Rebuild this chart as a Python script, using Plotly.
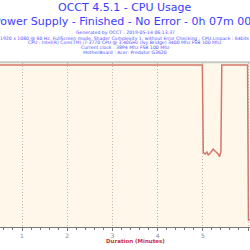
import plotly.graph_objects as go

# Data
minutes = [0.5, 4.99, 5.01, 5.05, 5.09, 5.12, 5.16, 5.20, 5.23, 5.27, 5.31, 5.34, 5.37, 5.40, 5.42, 5.99, 6.01, 6.1]
cpu_usage = [100, 100, 45.9, 45.1, 46.3, 44.4, 45.5, 47.1, 48.0, 46.9, 45.9, 45.1, 43.4, 46.5, 100, 100, 4.3, 4.3]
tick_vals = [1, 2, 3, 4, 5, 6]
tick_text = ["1", "2", "3", "4", "5", "6"]

title_lines = ["OCCT 4.5.1 - CPU Usage",
               "Power Supply - Finished - No Error - 0h 07m 00s"]
info_lines = [
    "Generated by OCCT : 2019-05-14 06:13:37",
    "1920 x 1080 @ 60 Hz, FullScreen mode, Shader Complexity 1, without Error Checking ; CPU:Linpack : 64bits",
    "CPU : Intel(R) Core(TM) i7-3770 CPU @ 3.40GHz (Ivy Bridge) 3400 Mhz FSB 100 Mhz",
    "Current clock : 3894 Mhz FSB 100 Mhz",
    "MotherBoard : Acer: Predator G3620",
]

fig = go.Figure()
fig.add_trace(go.Scatter(x=minutes, y=cpu_usage, mode="lines",
                         line=dict(color="#d4766c", width=1.5),
                         hoverinfo="skip", showlegend=False))

plot_top = 63
plot_bottom = 23
plot_h = 250 - plot_top - plot_bottom

fig.update_layout(
    width=250, height=250,
    margin=dict(l=0, r=0, t=plot_top, b=plot_bottom),
    paper_bgcolor="white",
    plot_bgcolor="#fff8ea",
    font=dict(family="DejaVu Sans"),
    xaxis=dict(range=[0.513, 6.044], tickvals=tick_vals, ticktext=tick_text,
               showgrid=True, gridcolor="#b8b8b8", griddash="1px,2px", gridwidth=1,
               showline=True, linecolor="#777777", linewidth=1,
               ticks="outside", ticklen=3, tickcolor="#777777",
               tickfont=dict(size=6, color="#888888"),
               minor=dict(dtick=0.2, ticks="outside", ticklen=2, tickcolor="#777777", showgrid=False),
               zeroline=False, fixedrange=True),
    yaxis=dict(range=[0, 101.2], showgrid=False, showticklabels=False,
               zeroline=False, showline=False, fixedrange=True),
)

# top border line of plot area
fig.add_shape(type="line", xref="paper", yref="paper", x0=0, x1=1, y0=1.004, y1=1.004,
              line=dict(color="#c8c8c8", width=2))

title_y_px = [7.5, 21]
title_sizes = [11, 11]
info_y_px = [32, 38, 43, 48, 53]

for t, ypx, sz in zip(title_lines, title_y_px, title_sizes):
    fig.add_annotation(text=t, xref="paper", yref="paper", x=0.5,
                       y=1 + (plot_top - ypx) / plot_h, showarrow=False,
                       font=dict(size=sz, color="#3b3bff"),
                       xanchor="center", yanchor="middle")
for t, ypx in zip(info_lines, info_y_px):
    fig.add_annotation(text=t, xref="paper", yref="paper", x=0.5,
                       y=1 + (plot_top - ypx) / plot_h, showarrow=False,
                       font=dict(size=4.6, color="#5050ff"),
                       xanchor="center", yanchor="middle")

fig.add_annotation(text="<b>Duration (Minutes)</b>", xref="paper", yref="paper",
                   x=135 / 250, y=-(241 - 227) / plot_h, showarrow=False,
                   font=dict(size=5.5, color="#cc3333"),
                   xanchor="center", yanchor="middle")

fig.write_html("out.html")
